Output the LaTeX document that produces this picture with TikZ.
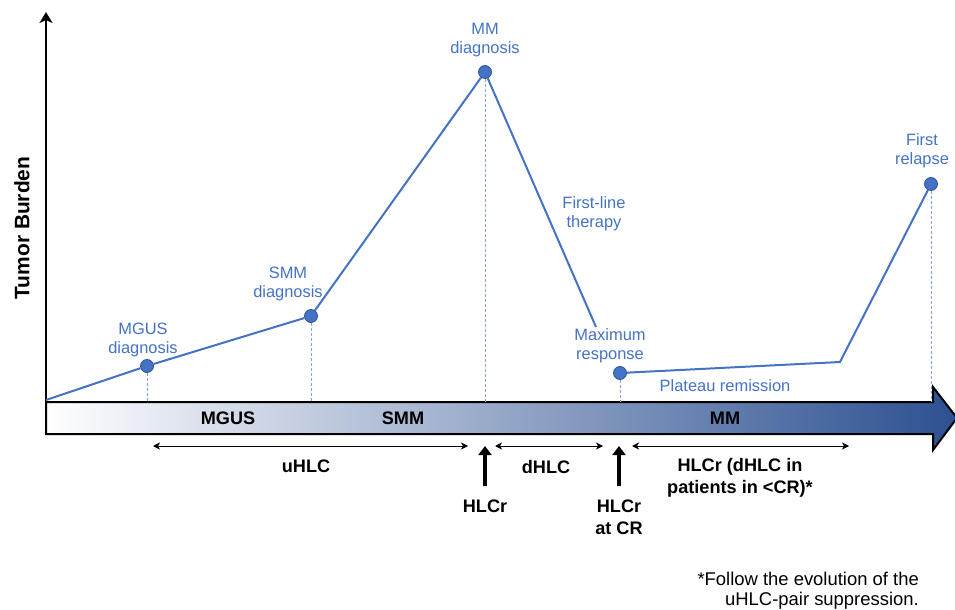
\documentclass[tikz,border=0pt]{standalone}
\usepackage{fontspec}
\setmainfont{Liberation Sans}
\usetikzlibrary{arrows.meta}
\definecolor{lblue}{RGB}{68,114,196}
\definecolor{dblue}{RGB}{47,85,151}
\definecolor{barmid}{RGB}{150,176,226}
\definecolor{barend}{RGB}{44,80,145}
\definecolor{guideblue}{RGB}{130,165,225}
\tikzset{
  dot/.style={circle,inner sep=0pt,minimum size=13bp,fill=lblue,draw=dblue,line width=0.8bp},
  curve/.style={draw=lblue,line width=2bp,line join=round},
  guide/.style={draw=guideblue,line width=1bp,dash pattern=on 3bp off 2bp},
  bluetxt/.style={text=lblue,align=center,font=\fontsize{16.5}{19.5}\selectfont,inner sep=0pt},
  boldtxt/.style={text=black,align=center,font=\fontsize{18.2}{22}\selectfont\bfseries,inner sep=0pt},
  span/.style={draw=black,line width=1bp,{Stealth[length=7bp,width=7bp,inset=2bp]}-{Stealth[length=7bp,width=7bp,inset=2bp]}},
  thickup/.style={draw=black,line width=4.5bp,-{Triangle[length=9bp,width=13bp]}},
}
\begin{document}
\begin{tikzpicture}[x=1bp,y=-1bp]
\useasboundingbox (0,0) rectangle (955,610);
% timeline arrow
\shade[left color=white,middle color=barmid,right color=barend,draw=black,line width=2bp,line join=miter]
  (46,402) -- (933,402) -- (933,387) -- (957,418) -- (933,450) -- (933,434) -- (46,434) -- cycle;
% y axis
\coordinate (yb) at (46,402);
\coordinate (yt) at (46,12);
\draw[line width=2bp,-{Stealth[length=11bp,width=13bp,inset=3bp]}] (yb) -- (yt);
\node[rotate=90,font=\fontsize{21}{25}\selectfont\bfseries,inner sep=0pt] (ylab) at (22,228) {Tumor Burden};
% points
\coordinate (o) at (46,400);
\coordinate (bartop) at (0,402);
\coordinate (ftend) at (596,327);
\coordinate (plat) at (840,362);
\node[dot] (mgus) at (147,366) {};
\node[dot] (smm) at (311,316) {};
\node[dot] (mm) at (485,72) {};
\node[dot] (maxr) at (620,373) {};
\node[dot] (rel) at (931,184) {};
% guides
\draw[guide] (mgus) -- (mgus |- bartop);
\draw[guide] (smm) -- (smm |- bartop);
\draw[guide] (mm) -- (mm |- bartop);
\draw[guide] (maxr) -- (maxr |- bartop);
\draw[guide] (rel) -- (rel |- bartop);
% curve
\draw[curve] (o) -- (mgus) -- (smm) -- (mm) -- (ftend);
\draw[curve] (maxr) -- (plat) -- (rel);
% blue labels
\node[bluetxt] (lmgus) at (143,340) {MGUS\\diagnosis};
\node[bluetxt] (lsmm) at (288,284) {SMM\\diagnosis};
\node[bluetxt] (lmm) at (485,40) {MM\\diagnosis};
\node[bluetxt] (lflt) at (594,214) {First-line\\therapy};
\node[bluetxt] (lmax) at (610,346) {Maximum\\response};
\node[bluetxt] (lplat) at (725,386) {Plateau remission};
\node[bluetxt] (lrel) at (922,151) {First\\relapse};
% bar labels
\node[boldtxt] (bmgus) at (228,418) {MGUS};
\node[boldtxt] (bsmm) at (403,418) {SMM};
\node[boldtxt] (bmm) at (725,418) {MM};
% spans
\coordinate (u1) at (153,446);
\coordinate (u2) at (468,446);
\coordinate (d1) at (495,446);
\coordinate (d2) at (603,446);
\coordinate (h1) at (632,446);
\coordinate (h2) at (849,446);
\draw[span] (u1) -- (u2);
\draw[span] (d1) -- (d2);
\draw[span] (h1) -- (h2);
\node[boldtxt] (luhlc) at (306,466) {uHLC};
\node[boldtxt] (ldhlc) at (546,467) {dHLC};
\node[boldtxt] (lhlcr2) at (740,478) {HLCr (dHLC in\\patients in <CR)*};
% thick arrows
\coordinate (a1b) at (485,486);
\coordinate (a1t) at (485,446);
\coordinate (a2b) at (619,486);
\coordinate (a2t) at (619,446);
\draw[thickup] (a1b) -- (a1t);
\draw[thickup] (a2b) -- (a2t);
\node[boldtxt] (lhlcr) at (485,506) {HLCr};
\node[boldtxt] (lhlccr) at (619,517) {HLCr\\at CR};
% footnote
\node[anchor=east,align=right,inner sep=0pt,font=\fontsize{18.5}{20}\selectfont] (foot) at (919,591) {*Follow the evolution of the\\uHLC-pair suppression.};
\end{tikzpicture}
\end{document}
